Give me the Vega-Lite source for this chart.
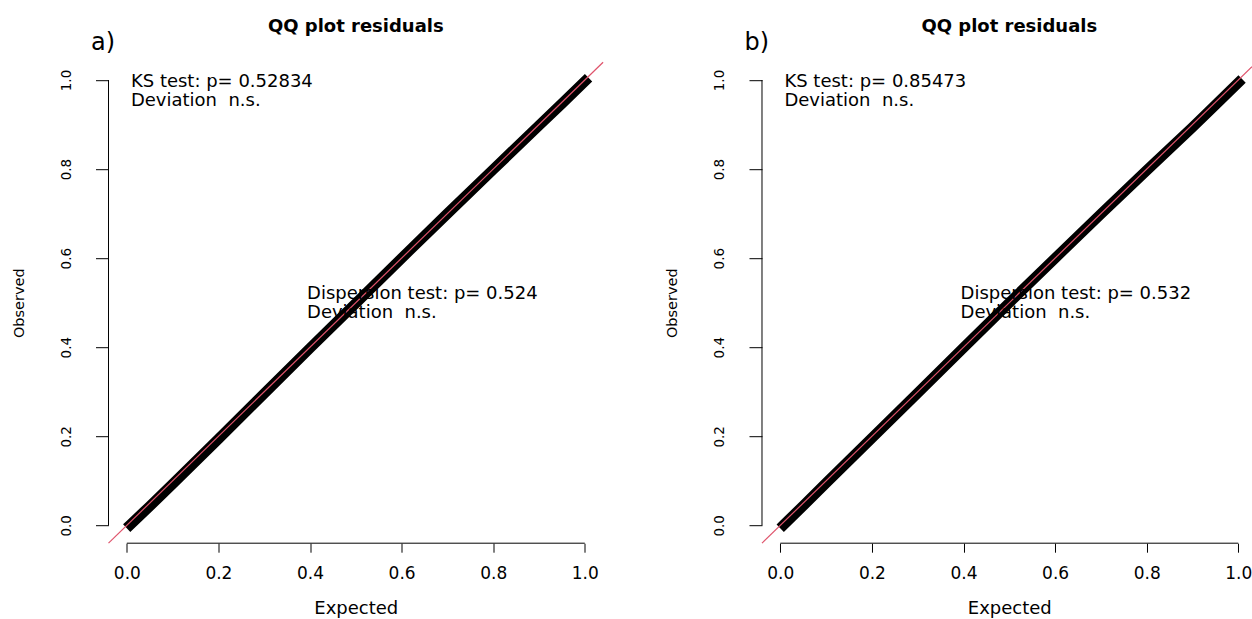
{
  "$schema": "https://vega.github.io/schema/vega-lite/v6.json",
  "background": "white",
  "padding": {"left": 11.5, "top": 17.2, "right": 0, "bottom": 0},
  "bounds": "flush",
  "spacing": 158.5,
  "config": {
    "view": {"stroke": null},
    "font": "DejaVu Sans",
    "axis": {"grid": false, "domain": false}
  },
  "datasets": {
    "qqA": [
      {"expected": 0.008, "observed": 0.002},
      {"expected": 0.05, "observed": 0.043},
      {"expected": 0.1, "observed": 0.093},
      {"expected": 0.2, "observed": 0.194},
      {"expected": 0.3, "observed": 0.296},
      {"expected": 0.4, "observed": 0.398},
      {"expected": 0.5, "observed": 0.499},
      {"expected": 0.6, "observed": 0.6},
      {"expected": 0.7, "observed": 0.7},
      {"expected": 0.8, "observed": 0.799},
      {"expected": 0.9, "observed": 0.898},
      {"expected": 0.95, "observed": 0.947},
      {"expected": 1.0, "observed": 0.997}
    ],
    "qqB": [
      {"expected": 0.008, "observed": 0.002},
      {"expected": 0.05, "observed": 0.044},
      {"expected": 0.1, "observed": 0.095},
      {"expected": 0.2, "observed": 0.196},
      {"expected": 0.3, "observed": 0.297},
      {"expected": 0.4, "observed": 0.399},
      {"expected": 0.5, "observed": 0.5},
      {"expected": 0.6, "observed": 0.6},
      {"expected": 0.7, "observed": 0.699},
      {"expected": 0.8, "observed": 0.797},
      {"expected": 0.9, "observed": 0.894},
      {"expected": 0.95, "observed": 0.944},
      {"expected": 1.0, "observed": 0.994}
    ],
    "notesA": [
      {"title": "QQ plot residuals", "panel": "a)", "ks": ["KS test: p= 0.52834", "Deviation\u00a0 n.s."], "disp": ["Dispersion test: p= 0.524", "Deviation\u00a0 n.s."]}
    ],
    "notesB": [
      {"title": "QQ plot residuals", "panel": "b)", "ks": ["KS test: p= 0.85473", "Deviation\u00a0 n.s."], "disp": ["Dispersion test: p= 0.532", "Deviation\u00a0 n.s."]}
    ],
    "one": [{}]
  },
  "hconcat": [
    {
      "width": 494.6,
      "height": 481,
      "layer": [
        {
          "data": {"name": "qqA"},
          "mark": {"type": "line", "color": "black", "strokeWidth": 10.5, "strokeCap": "square", "strokeJoin": "round"},
          "encoding": {
            "x": {"field": "expected", "type": "quantitative", "scale": {"domain": [-0.04, 1.04], "nice": false, "zero": false},
              "axis": {"values": [0, 0.2, 0.4, 0.6, 0.8, 1.0], "format": ".1f", "tickSize": 9, "tickColor": "black", "tickWidth": 1,
                "labelFont": "DejaVu Sans", "labelFontSize": 17, "labelColor": "black", "labelPadding": 26, "labelBaseline": "alphabetic", "labelAlign": "center", "labelFlush": false, "labelOverlap": false,
                "title": "Expected", "titleFont": "DejaVu Sans", "titleFontSize": 18, "titleFontWeight": "normal", "titleColor": "black", "titleX": 247.3, "titleY": 70.5, "titleBaseline": "alphabetic", "titleAlign": "center"}},
            "y": {"field": "observed", "type": "quantitative", "scale": {"domain": [-0.04, 1.04], "nice": false, "zero": false},
              "axis": {"values": [0, 0.2, 0.4, 0.6, 0.8, 1.0], "format": ".1f", "tickSize": 13, "tickColor": "black", "tickWidth": 1,
                "labelFont": "DejaVu Sans", "labelFontSize": 13.5, "labelColor": "black", "labelAngle": 270, "labelPadding": 25, "labelBaseline": "alphabetic", "labelAlign": "center", "labelFlush": false, "labelOverlap": false,
                "title": "Observed", "titleFont": "DejaVu Sans", "titleFontSize": 14.5, "titleFontWeight": "normal", "titleColor": "black", "titleAngle": 270, "titleX": -85, "titleY": 240.5, "titleBaseline": "alphabetic", "titleAlign": "center"}}
          }
        },
        {
          "data": {"name": "one"},
          "mark": {"type": "rule", "color": "#DF536B", "strokeWidth": 1.2},
          "encoding": {"x": {"datum": -0.04}, "y": {"datum": -0.04}, "x2": {"datum": 1.04}, "y2": {"datum": 1.04}}
        },
        {
          "data": {"name": "one"},
          "mark": {"type": "rule", "color": "black", "strokeWidth": 1},
          "encoding": {"x": {"datum": 0}, "x2": {"datum": 1}, "y": {"datum": -0.04}, "y2": {"datum": -0.04}}
        },
        {
          "data": {"name": "one"},
          "mark": {"type": "rule", "color": "black", "strokeWidth": 1},
          "encoding": {"x": {"datum": -0.04}, "x2": {"datum": -0.04}, "y": {"datum": 0}, "y2": {"datum": 1}}
        },
        {
          "data": {"name": "notesA"},
          "mark": {"type": "text", "align": "center", "baseline": "alphabetic", "fontSize": 18, "fontWeight": "bold", "color": "black", "font": "DejaVu Sans"},
          "encoding": {"x": {"datum": 0.5}, "y": {"datum": 1.108}, "text": {"field": "title"}}
        },
        {
          "data": {"name": "notesA"},
          "mark": {"type": "text", "align": "left", "baseline": "alphabetic", "fontSize": 18, "lineHeight": 19, "color": "black", "font": "DejaVu Sans"},
          "encoding": {"x": {"datum": 0.009}, "y": {"datum": 0.984}, "text": {"field": "ks"}}
        },
        {
          "data": {"name": "notesA"},
          "mark": {"type": "text", "align": "left", "baseline": "alphabetic", "fontSize": 18, "lineHeight": 19, "color": "black", "font": "DejaVu Sans"},
          "encoding": {"x": {"datum": 0.3935}, "y": {"datum": 0.5079}, "text": {"field": "disp"}}
        },
        {
          "data": {"name": "notesA"},
          "mark": {"type": "text", "align": "left", "baseline": "alphabetic", "fontSize": 24, "color": "black", "font": "DejaVu Sans"},
          "encoding": {"x": {"datum": -0.078}, "y": {"datum": 1.0667}, "text": {"field": "panel"}}
        }
      ]
    },
    {
      "width": 490,
      "height": 481,
      "layer": [
        {
          "data": {"name": "qqB"},
          "mark": {"type": "line", "color": "black", "strokeWidth": 10.5, "strokeCap": "square", "strokeJoin": "round"},
          "encoding": {
            "x": {"field": "expected", "type": "quantitative", "scale": {"domain": [-0.04, 1.0299], "nice": false, "zero": false},
              "axis": {"values": [0, 0.2, 0.4, 0.6, 0.8, 1.0], "format": ".1f", "tickSize": 9, "tickColor": "black", "tickWidth": 1,
                "labelFont": "DejaVu Sans", "labelFontSize": 17, "labelColor": "black", "labelPadding": 26, "labelBaseline": "alphabetic", "labelAlign": "center", "labelFlush": false, "labelOverlap": false,
                "title": "Expected", "titleFont": "DejaVu Sans", "titleFontSize": 18, "titleFontWeight": "normal", "titleColor": "black", "titleX": 247.3, "titleY": 70.5, "titleBaseline": "alphabetic", "titleAlign": "center"}},
            "y": {"field": "observed", "type": "quantitative", "scale": {"domain": [-0.04, 1.04], "nice": false, "zero": false},
              "axis": {"values": [0, 0.2, 0.4, 0.6, 0.8, 1.0], "format": ".1f", "tickSize": 13, "tickColor": "black", "tickWidth": 1,
                "labelFont": "DejaVu Sans", "labelFontSize": 13.5, "labelColor": "black", "labelAngle": 270, "labelPadding": 25, "labelBaseline": "alphabetic", "labelAlign": "center", "labelFlush": false, "labelOverlap": false,
                "title": "Observed", "titleFont": "DejaVu Sans", "titleFontSize": 14.5, "titleFontWeight": "normal", "titleColor": "black", "titleAngle": 270, "titleX": -85, "titleY": 240.5, "titleBaseline": "alphabetic", "titleAlign": "center"}}
          }
        },
        {
          "data": {"name": "one"},
          "mark": {"type": "rule", "color": "#DF536B", "strokeWidth": 1.2},
          "encoding": {"x": {"datum": -0.04}, "y": {"datum": -0.04}, "x2": {"datum": 1.0299}, "y2": {"datum": 1.0299}}
        },
        {
          "data": {"name": "one"},
          "mark": {"type": "rule", "color": "black", "strokeWidth": 1},
          "encoding": {"x": {"datum": 0}, "x2": {"datum": 1}, "y": {"datum": -0.04}, "y2": {"datum": -0.04}}
        },
        {
          "data": {"name": "one"},
          "mark": {"type": "rule", "color": "black", "strokeWidth": 1},
          "encoding": {"x": {"datum": -0.04}, "x2": {"datum": -0.04}, "y": {"datum": 0}, "y2": {"datum": 1}}
        },
        {
          "data": {"name": "notesB"},
          "mark": {"type": "text", "align": "center", "baseline": "alphabetic", "fontSize": 18, "fontWeight": "bold", "color": "black", "font": "DejaVu Sans"},
          "encoding": {"x": {"datum": 0.5}, "y": {"datum": 1.108}, "text": {"field": "title"}}
        },
        {
          "data": {"name": "notesB"},
          "mark": {"type": "text", "align": "left", "baseline": "alphabetic", "fontSize": 18, "lineHeight": 19, "color": "black", "font": "DejaVu Sans"},
          "encoding": {"x": {"datum": 0.009}, "y": {"datum": 0.984}, "text": {"field": "ks"}}
        },
        {
          "data": {"name": "notesB"},
          "mark": {"type": "text", "align": "left", "baseline": "alphabetic", "fontSize": 18, "lineHeight": 19, "color": "black", "font": "DejaVu Sans"},
          "encoding": {"x": {"datum": 0.3935}, "y": {"datum": 0.5079}, "text": {"field": "disp"}}
        },
        {
          "data": {"name": "notesB"},
          "mark": {"type": "text", "align": "left", "baseline": "alphabetic", "fontSize": 24, "color": "black", "font": "DejaVu Sans"},
          "encoding": {"x": {"datum": -0.078}, "y": {"datum": 1.0667}, "text": {"field": "panel"}}
        }
      ]
    }
  ]
}
